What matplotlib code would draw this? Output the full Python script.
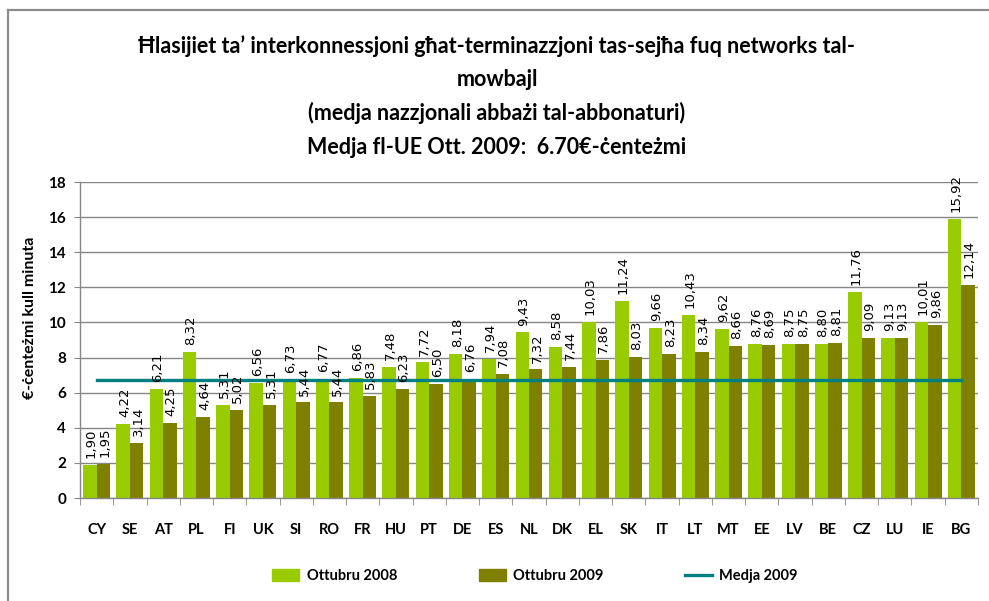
import matplotlib
matplotlib.use("Agg")
import matplotlib.pyplot as plt
import numpy as np
from matplotlib.patches import Patch
from matplotlib.lines import Line2D

plt.rcParams["font.family"] = ["Lato", "DejaVu Sans"]

# data
countries = ["CY", "SE", "AT", "PL", "FI", "UK", "SI", "RO", "FR", "HU", "PT", "DE", "ES", "NL",
             "DK", "EL", "SK", "IT", "LT", "MT", "EE", "LV", "BE", "CZ", "LU", "IE", "BG"]
oct_2008 = [1.90, 4.22, 6.21, 8.32, 5.31, 6.56, 6.73, 6.77, 6.86, 7.48, 7.72, 8.18, 7.94, 9.43,
            8.58, 10.03, 11.24, 9.66, 10.43, 9.62, 8.76, 8.75, 8.80, 11.76, 9.13, 10.01, 15.92]
oct_2009 = [1.95, 3.14, 4.25, 4.64, 5.02, 5.31, 5.44, 5.44, 5.83, 6.23, 6.50, 6.76, 7.08, 7.32,
            7.44, 7.86, 8.03, 8.23, 8.34, 8.66, 8.69, 8.75, 8.81, 9.09, 9.13, 9.86, 12.14]
eu_avg_2009 = 6.70
yticks = [0, 2, 4, 6, 8, 10, 12, 14, 16, 18]

green = "#99CC00"
olive = "#808000"
teal = "#008080"
grey = "#868686"

fig = plt.figure(figsize=(9.89, 6.01), dpi=100)
ax = fig.add_axes([80 / 989, 1 - 498 / 601, 898 / 989, 316 / 601])

x = np.arange(len(countries))
w = 0.405
b1 = ax.bar(x - w / 2, oct_2008, w, color=green, zorder=2)
b2 = ax.bar(x + w / 2, oct_2009, w, color=olive, zorder=2)
ax.plot([x[0], x[-1]], [eu_avg_2009, eu_avg_2009], color=teal, lw=2.4, zorder=3)

for bars, vals in ((b1, oct_2008), (b2, oct_2009)):
    for r, v in zip(bars, vals):
        ax.annotate(f"{v:.2f}".replace(".", ","), (r.get_x() + r.get_width() / 2, v),
                    xytext=(1, 5), textcoords="offset points", rotation=90,
                    ha="center", va="bottom", fontsize=9.5, family="DejaVu Sans",
                    color="black", zorder=4)

ax.set_xlim(-0.5, len(countries) - 0.5)
ax.set_ylim(0, 18)
ax.set_yticks(yticks)
ax.set_yticklabels([str(t) for t in yticks], fontsize=11, fontweight="bold")
ax.yaxis.grid(True, color=grey, lw=1, zorder=0)
ax.set_axisbelow(True)

ax.set_xticks(x)
ax.set_xticklabels(countries, fontsize=10.5, fontweight="bold")
ax.set_xticks(np.arange(-0.5, len(countries)), minor=True)
ax.tick_params(axis="x", which="major", length=0, pad=18)
ax.tick_params(axis="x", which="minor", length=5, color=grey, direction="out")
ax.tick_params(axis="y", length=4, color=grey, pad=6)

for s in ("top", "right"):
    ax.spines[s].set_visible(False)
for s in ("left", "bottom"):
    ax.spines[s].set_color(grey)
    ax.spines[s].set_linewidth(1)

ax.set_ylabel("€-ċenteżmi kull minuta", fontsize=11.5, fontweight="bold")
ax.yaxis.set_label_coords(-0.048, 0.57)

# title lines
title_lines = ["Ħlasijiet ta’ interkonnessjoni għat-terminazzjoni tas-sejħa fuq networks tal-",
               "mowbajl",
               "(medja nazzjonali abbażi tal-abbonaturi)",
               "Medja fl-UE Ott. 2009:  6.70€-ċenteżmi"]
for txt, yy in zip(title_lines, [46, 79, 113, 147]):
    fig.text(497 / 989, 1 - yy / 601, txt, ha="center", va="center",
             fontsize=15.5, fontweight="bold")

handles = [Patch(color=green), Patch(color=olive), Line2D([0], [0], color=teal, lw=2.4)]
fig.legend(handles, ["Ottubru 2008", "Ottubru 2009", "Medja 2009"], ncol=3,
           loc="center", bbox_to_anchor=(535 / 989, 1 - 576 / 601), frameon=False,
           prop={"size": 10.5, "weight": "bold"}, columnspacing=5.6,
           handlelength=1.85, handleheight=0.8, handletextpad=0.5)

# outer chart frame (partly cropped in the reference)
fig.add_artist(Line2D([8 / 989, 8 / 989], [0, 1 - 10 / 601], color="#8c8c8c", lw=1.6,
                      transform=fig.transFigure))
fig.add_artist(Line2D([8 / 989, 1], [1 - 10 / 601, 1 - 10 / 601], color="#8c8c8c", lw=1.6,
                      transform=fig.transFigure))

fig.savefig("out.png", dpi=100)
